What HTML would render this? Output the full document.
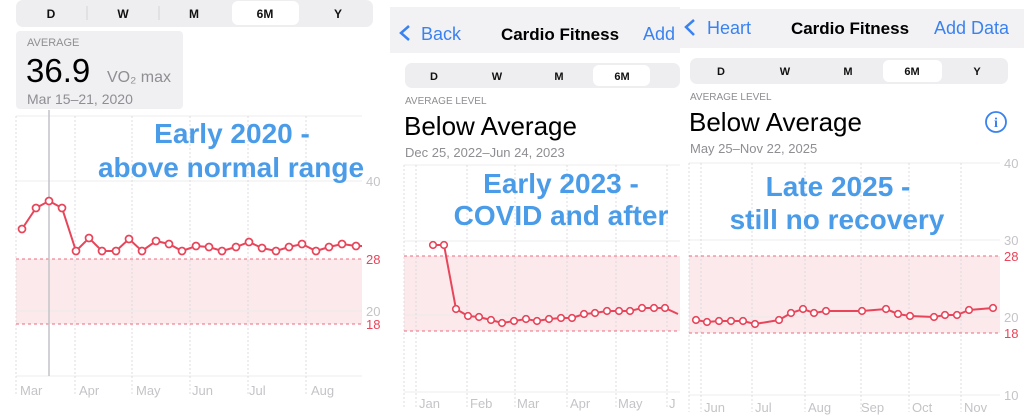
<!DOCTYPE html>
<html><head><meta charset="utf-8"><style>
html,body{margin:0;padding:0;background:#fff;}
svg{display:block;font-family:"Liberation Sans",sans-serif;}
.g{fill:#8e8e93}.ax{fill:#c4c4c8;font-size:13px}.rd{fill:#e8455a;font-size:13px}
.bl{fill:#4a9be8;font-weight:bold;font-size:28px}
</style></head><body>
<svg width="1024" height="416" viewBox="0 0 1024 416" xmlns="http://www.w3.org/2000/svg">
<!-- PANEL 1 -->
<rect x="16" y="0" width="357" height="27" rx="7" fill="#eeeef0"/>
<rect x="232" y="1" width="67" height="24" rx="6" fill="#fff"/>
<g font-size="12" text-anchor="middle" fill="#111" font-weight="bold"><text x="51" y="18">D</text><text x="123" y="18">W</text><text x="194" y="18">M</text><text x="265" y="18">6M</text><text x="338" y="18">Y</text></g>
<g stroke="#d4d4d8"><line x1="87" y1="6" x2="87" y2="20"/><line x1="159" y1="6" x2="159" y2="20"/></g>
<rect x="16" y="31" width="167" height="78" rx="4" fill="#f0f0f3"/>
<text x="27" y="46" class="g" font-size="11">AVERAGE</text>
<text x="26" y="82" font-size="33" fill="#000">36.9</text>
<text x="107" y="82" class="g" font-size="16">VO₂ max</text>
<text x="27" y="104" class="g" font-size="14">Mar 15–21, 2020</text>
<rect x="16" y="259" width="346" height="65" fill="#fbe9eb"/>
<g stroke="#ececee"><line x1="16" y1="116" x2="362" y2="116"/><line x1="16" y1="181" x2="362" y2="181"/><line x1="16" y1="311" x2="362" y2="311"/><line x1="16" y1="376" x2="362" y2="376"/></g>
<g stroke="#dcdce0" stroke-dasharray="2,2"><line x1="16" y1="116" x2="16" y2="395"/><line x1="75" y1="116" x2="75" y2="395"/><line x1="132" y1="116" x2="132" y2="395"/><line x1="190" y1="116" x2="190" y2="395"/><line x1="248" y1="116" x2="248" y2="395"/><line x1="306" y1="116" x2="306" y2="395"/></g>
<g stroke="#ee6b7c" stroke-dasharray="3,3"><line x1="16" y1="259" x2="362" y2="259"/><line x1="16" y1="324" x2="362" y2="324"/></g>
<line x1="49" y1="110" x2="49" y2="376" stroke="#c4c4c8" stroke-width="1.5"/>
<polyline fill="none" stroke="#e8455a" stroke-width="2" points="22,229 36,208 49,201 62,208 76,251 89,238 102,251 116,251 129,239 142,251 156,241 169,244 182,251 196,246 209,247 222,251 236,247 249,242 262,248 276,251 289,247 302,244 316,251 329,247 342,244 356,246 362,246"/>
<g fill="#fff" stroke="#e8455a" stroke-width="1.7">
<circle cx="22" cy="229" r="3.5"/><circle cx="36" cy="208" r="3.5"/><circle cx="49" cy="201" r="3.5"/><circle cx="62" cy="208" r="3.5"/><circle cx="76" cy="251" r="3.5"/><circle cx="89" cy="238" r="3.5"/><circle cx="102" cy="251" r="3.5"/><circle cx="116" cy="251" r="3.5"/><circle cx="129" cy="239" r="3.5"/><circle cx="142" cy="251" r="3.5"/><circle cx="156" cy="241" r="3.5"/><circle cx="169" cy="244" r="3.5"/><circle cx="182" cy="251" r="3.5"/><circle cx="196" cy="246" r="3.5"/><circle cx="209" cy="247" r="3.5"/><circle cx="222" cy="251" r="3.5"/><circle cx="236" cy="247" r="3.5"/><circle cx="249" cy="242" r="3.5"/><circle cx="262" cy="248" r="3.5"/><circle cx="276" cy="251" r="3.5"/><circle cx="289" cy="247" r="3.5"/><circle cx="302" cy="244" r="3.5"/><circle cx="316" cy="251" r="3.5"/><circle cx="329" cy="247" r="3.5"/><circle cx="342" cy="244" r="3.5"/><circle cx="356" cy="246" r="3.5"/></g>
<text x="366" y="186" class="ax">40</text><text x="366" y="264" class="rd">28</text><text x="366" y="316" class="ax">20</text><text x="366" y="329" class="rd">18</text>
<g class="ax"><text x="20" y="395">Mar</text><text x="79" y="395">Apr</text><text x="136" y="395">May</text><text x="192" y="395">Jun</text><text x="249" y="395">Jul</text><text x="311" y="395">Aug</text></g>
<text x="232" y="143" class="bl" text-anchor="middle">Early 2020 -</text>
<text x="231" y="177" class="bl" text-anchor="middle">above normal range</text>

<!-- PANEL 2 -->
<rect x="390" y="7" width="290" height="46" fill="#f2f2f5"/>
<polyline points="409,26 401,33 409,40" fill="none" stroke="#3a82f0" stroke-width="2.5"/>
<text x="421" y="40" font-size="18" fill="#3a82f0">Back</text>
<text x="560" y="40" font-size="17" fill="#000" text-anchor="middle" font-weight="bold">Cardio Fitness</text>
<text x="643" y="40" font-size="18" fill="#3a82f0">Add</text>
<rect x="405" y="63" width="275" height="25" rx="7" fill="#eeeef0"/>
<rect x="593" y="65" width="57" height="21" rx="6" fill="#fff"/>
<g font-size="11" text-anchor="middle" fill="#111" font-weight="bold"><text x="434" y="80">D</text><text x="497" y="80">W</text><text x="559" y="80">M</text><text x="622" y="80">6M</text></g>
<text x="405" y="104" class="g" font-size="10">AVERAGE LEVEL</text>
<text x="404" y="135" font-size="26" fill="#000">Below Average</text>
<text x="405" y="157" class="g" font-size="13">Dec 25, 2022–Jun 24, 2023</text>
<rect x="404" y="256" width="276" height="75" fill="#fbe9eb"/>
<g stroke="#ececee"><line x1="404" y1="165" x2="680" y2="165"/><line x1="404" y1="241" x2="680" y2="241"/><line x1="404" y1="315" x2="680" y2="315"/><line x1="404" y1="392" x2="680" y2="392"/></g>
<g stroke="#dcdce0" stroke-dasharray="2,2"><line x1="404" y1="165" x2="404" y2="408"/><line x1="416" y1="165" x2="416" y2="408"/><line x1="467" y1="165" x2="467" y2="408"/><line x1="515" y1="165" x2="515" y2="408"/><line x1="567" y1="165" x2="567" y2="408"/><line x1="616" y1="165" x2="616" y2="408"/><line x1="667" y1="165" x2="667" y2="408"/></g>
<g stroke="#ee6b7c" stroke-dasharray="3,3"><line x1="404" y1="256" x2="680" y2="256"/><line x1="404" y1="331" x2="680" y2="331"/></g>
<polyline fill="none" stroke="#e8455a" stroke-width="2" points="433,245 444,245 456,309 468,316 479,317 491,320 502,323 514,321 526,319 537,321 549,319 561,318 572,318 584,314 595,313 607,311 619,311 630,311 642,308 654,308 665,308 678,314"/>
<g fill="#fff" stroke="#e8455a" stroke-width="1.6">
<circle cx="433" cy="245" r="3.3"/><circle cx="444" cy="245" r="3.3"/><circle cx="456" cy="309" r="3.3"/><circle cx="468" cy="316" r="3.3"/><circle cx="479" cy="317" r="3.3"/><circle cx="491" cy="320" r="3.3"/><circle cx="502" cy="323" r="3.3"/><circle cx="514" cy="321" r="3.3"/><circle cx="526" cy="319" r="3.3"/><circle cx="537" cy="321" r="3.3"/><circle cx="549" cy="319" r="3.3"/><circle cx="561" cy="318" r="3.3"/><circle cx="572" cy="318" r="3.3"/><circle cx="584" cy="314" r="3.3"/><circle cx="595" cy="313" r="3.3"/><circle cx="607" cy="311" r="3.3"/><circle cx="619" cy="311" r="3.3"/><circle cx="630" cy="311" r="3.3"/><circle cx="642" cy="308" r="3.3"/><circle cx="654" cy="308" r="3.3"/><circle cx="665" cy="308" r="3.3"/></g>
<g class="ax" font-size="12"><text x="419" y="408">Jan</text><text x="470" y="408">Feb</text><text x="517" y="408">Mar</text><text x="570" y="408">Apr</text><text x="618" y="408">May</text><text x="669" y="408">J</text></g>
<text x="561" y="193" class="bl" text-anchor="middle">Early 2023 -</text>
<text x="561" y="225" class="bl" text-anchor="middle">COVID and after</text>
<rect x="680" y="48" width="4" height="368" fill="#fff"/>

<!-- PANEL 3 -->
<rect x="675" y="9" width="349" height="39" fill="#f2f2f5"/>
<polyline points="694,20 686,27 694,35" fill="none" stroke="#3a82f0" stroke-width="2.5"/>
<text x="707" y="34" font-size="18" fill="#3a82f0">Heart</text>
<text x="850" y="34" font-size="17" fill="#000" text-anchor="middle" font-weight="bold">Cardio Fitness</text>
<text x="934" y="34" font-size="18" fill="#3a82f0">Add Data</text>
<rect x="690" y="58" width="318" height="26" rx="7" fill="#eeeef0"/>
<rect x="883" y="60" width="59" height="22" rx="6" fill="#fff"/>
<g font-size="11" text-anchor="middle" fill="#111" font-weight="bold"><text x="721" y="75">D</text><text x="785" y="75">W</text><text x="848" y="75">M</text><text x="912" y="75">6M</text><text x="977" y="75">Y</text></g>
<text x="690" y="100" class="g" font-size="10">AVERAGE LEVEL</text>
<text x="689" y="131" font-size="26" fill="#000">Below Average</text>
<circle cx="996" cy="122" r="10" fill="none" stroke="#3a82f0" stroke-width="1.8"/>
<text x="996" y="127" font-size="14" font-family="Liberation Serif" font-weight="bold" fill="#3a82f0" text-anchor="middle">i</text>
<text x="690" y="153" class="g" font-size="13">May 25–Nov 22, 2025</text>
<rect x="689" y="256" width="311" height="77" fill="#fbe9eb"/>
<g stroke="#ececee"><line x1="689" y1="163" x2="1000" y2="163"/><line x1="689" y1="240" x2="1000" y2="240"/><line x1="689" y1="317" x2="1000" y2="317"/><line x1="689" y1="395" x2="1000" y2="395"/></g>
<g stroke="#dcdce0" stroke-dasharray="2,2"><line x1="689" y1="163" x2="689" y2="412"/><line x1="701" y1="163" x2="701" y2="412"/><line x1="752" y1="163" x2="752" y2="412"/><line x1="805" y1="163" x2="805" y2="412"/><line x1="861" y1="163" x2="861" y2="412"/><line x1="909" y1="163" x2="909" y2="412"/><line x1="961" y1="163" x2="961" y2="412"/></g>
<g stroke="#ee6b7c" stroke-dasharray="3,3"><line x1="689" y1="256" x2="1000" y2="256"/><line x1="689" y1="333" x2="1000" y2="333"/></g>
<polyline fill="none" stroke="#e8455a" stroke-width="2" points="696,320 707,322 719,321 731,321 743,321 755,324 779,320 791,313 803,309 814,313 826,311 862,311 886,309 898,314 910,316 934,317 945,315 957,315 969,310 993,308"/>
<g fill="#fff" stroke="#e8455a" stroke-width="1.6">
<circle cx="696" cy="320" r="3.3"/><circle cx="707" cy="322" r="3.3"/><circle cx="719" cy="321" r="3.3"/><circle cx="731" cy="321" r="3.3"/><circle cx="743" cy="321" r="3.3"/><circle cx="755" cy="324" r="3.3"/><circle cx="779" cy="320" r="3.3"/><circle cx="791" cy="313" r="3.3"/><circle cx="803" cy="309" r="3.3"/><circle cx="814" cy="313" r="3.3"/><circle cx="826" cy="311" r="3.3"/><circle cx="862" cy="311" r="3.3"/><circle cx="886" cy="309" r="3.3"/><circle cx="898" cy="314" r="3.3"/><circle cx="910" cy="316" r="3.3"/><circle cx="934" cy="317" r="3.3"/><circle cx="945" cy="315" r="3.3"/><circle cx="957" cy="315" r="3.3"/><circle cx="969" cy="310" r="3.3"/><circle cx="993" cy="308" r="3.3"/></g>
<text x="1004" y="168" class="ax">40</text><text x="1004" y="245" class="ax">30</text><text x="1004" y="261" class="rd">28</text><text x="1004" y="322" class="ax">20</text><text x="1004" y="338" class="rd">18</text><text x="1004" y="400" class="ax">10</text>
<g class="ax" font-size="12"><text x="704" y="412">Jun</text><text x="755" y="412">Jul</text><text x="808" y="412">Aug</text><text x="861" y="412">Sep</text><text x="912" y="412">Oct</text><text x="964" y="412">Nov</text></g>
<text x="838" y="196" class="bl" text-anchor="middle">Late 2025 -</text>
<text x="837" y="229" class="bl" text-anchor="middle">still no recovery</text>
</svg>
</body></html>
